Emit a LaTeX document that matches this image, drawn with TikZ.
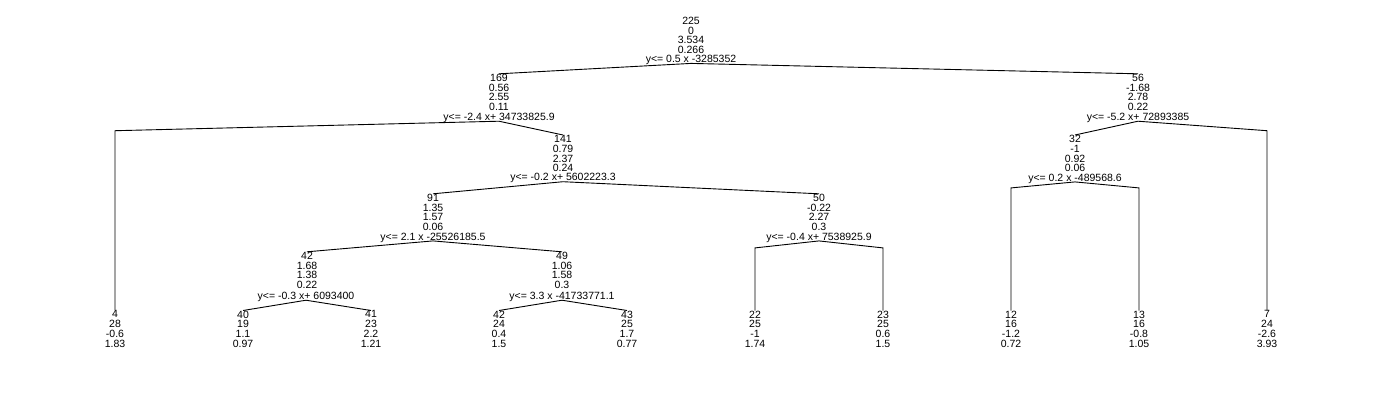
\documentclass[tikz,border=0pt]{standalone}
\usepackage{fontspec}
\setmainfont{Liberation Sans}
\begin{document}
\begin{tikzpicture}[x=1pt,y=-1pt,
  tn/.style={align=center,inner sep=0pt,anchor=north,font=\fontsize{10.5}{9.8}\selectfont},
  sp/.style={inner sep=0pt,anchor=north,font=\fontsize{10.5}{9.8}\selectfont},
  edge/.style={line width=0.9pt,black}]
\useasboundingbox (0,0) rectangle (1383,402);
% internal nodes
\node[tn] (n225) at (691,16.8) {225\\0\\3.534\\0.266};
\node[sp] (s225) at (691,55) {y<= 0.5 x -3285352};
\node[tn] (n169) at (499,73.8) {169\\0.56\\2.55\\0.11};
\node[sp] (s169) at (499,112.8) {y<= -2.4 x+ 34733825.9};
\node[tn] (n56) at (1138,73.8) {56\\-1.68\\2.78\\0.22};
\node[sp] (s56) at (1138,112.8) {y<= -5.2 x+ 72893385};
\node[tn] (n141) at (563,135) {141\\0.79\\2.37\\0.24};
\node[sp] (s141) at (563,173.3) {y<= -0.2 x+ 5602223.3};
\node[tn] (n32) at (1075,135) {32\\-1\\0.92\\0.06};
\node[sp] (s32) at (1075,173.5) {y<= 0.2 x -489568.6};
\node[tn] (n91) at (433,193.8) {91\\1.35\\1.57\\0.06};
\node[sp] (s91) at (433,232.5) {y<= 2.1 x -25526185.5};
\node[tn] (n50) at (819,193.8) {50\\-0.22\\2.27\\0.3};
\node[sp] (s50) at (819,232.5) {y<= -0.4 x+ 7538925.9};
\node[tn] (n42i) at (307,251.8) {42\\1.68\\1.38\\0.22};
\node[sp] (s42i) at (306,291.8) {y<= -0.3 x+ 6093400};
\node[tn] (n49) at (562,251.8) {49\\1.06\\1.58\\0.3};
\node[sp] (s49) at (562,291.8) {y<= 3.3 x -41733771.1};
% leaves
\node[tn] (n4) at (115,310.5) {4\\28\\-0.6\\1.83};
\node[tn] (n40) at (243,310.5) {40\\19\\1.1\\0.97};
\node[tn] (n41) at (371,310.5) {41\\23\\2.2\\1.21};
\node[tn] (n42l) at (499,310.5) {42\\24\\0.4\\1.5};
\node[tn] (n43) at (627,310.5) {43\\25\\1.7\\0.77};
\node[tn] (n22) at (755,310.5) {22\\25\\-1\\1.74};
\node[tn] (n23) at (883,310.5) {23\\25\\0.6\\1.5};
\node[tn] (n12) at (1011,310.5) {12\\16\\-1.2\\0.72};
\node[tn] (n13) at (1139,310.5) {13\\16\\-0.8\\1.05};
\node[tn] (n7) at (1267,310.5) {7\\24\\-2.6\\3.93};
% attach points
\foreach \s in {225,169,56,141,32,91,50,42i,49}{
  \coordinate (a\s) at ([yshift=1.5pt]s\s.south);
}
\path (a169) ++(0,9.5) coordinate (b169);
\path (a56) ++(0,9.5) coordinate (b56);
\path (a32) ++(0,6) coordinate (b32);
\path (a50) ++(0,7) coordinate (b50);
% edges
\draw[edge] (a225) -- (n169.north);
\draw[edge] (a225) -- (n56.north);
\draw[edge] (a169) -- (b169 -| n4.north) -- (n4.north);
\draw[edge] (a169) -- (n141.north);
\draw[edge] (a56) -- (n32.north);
\draw[edge] (a56) -- (b56 -| n7.north) -- (n7.north);
\draw[edge] (a141) -- (n91.north);
\draw[edge] (a141) -- (n50.north);
\draw[edge] (a32) -- (b32 -| n12.north) -- (n12.north);
\draw[edge] (a32) -- (b32 -| n13.north) -- (n13.north);
\draw[edge] (a91) -- (n42i.north);
\draw[edge] (a91) -- (n49.north);
\draw[edge] (a50) -- (b50 -| n22.north) -- (n22.north);
\draw[edge] (a50) -- (b50 -| n23.north) -- (n23.north);
\draw[edge] (a42i) -- (n40.north);
\draw[edge] (a42i) -- (n41.north);
\draw[edge] (a49) -- (n42l.north);
\draw[edge] (a49) -- (n43.north);
\end{tikzpicture}
\end{document}
